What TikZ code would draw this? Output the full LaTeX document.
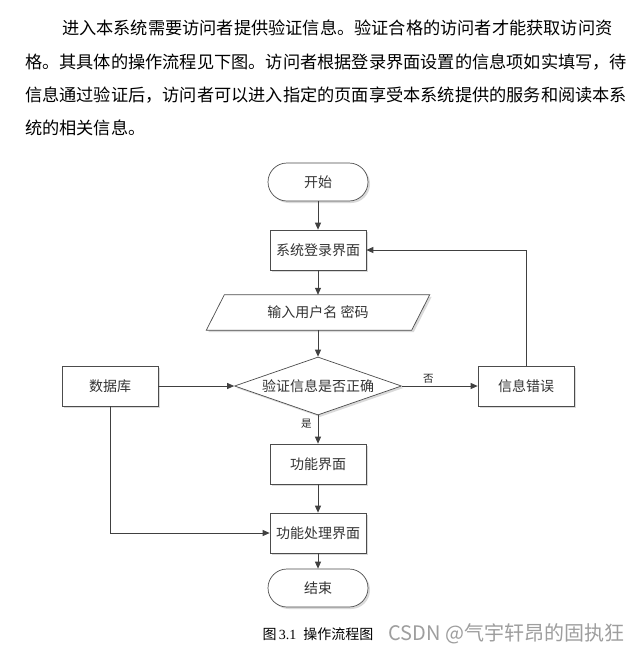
\documentclass[tikz,border=0pt]{standalone}
\usepackage{fontspec}
\setmainfont{Liberation Serif}
\newfontfamily\zhfont{Noto Sans CJK SC}
\usetikzlibrary{shapes.geometric,shadows,arrows.meta}

\begin{document}
\begin{tikzpicture}[x=1pt,y=-1pt,
	every node/.style={font=\zhfont\fontsize{14}{16}\selectfont, text=black!80},
	para/.style={anchor=west, inner sep=0pt, text=black, font=\zhfont\fontsize{17.2}{20}\selectfont},
	shade box/.style={drop shadow={shadow xshift=2pt, shadow yshift=-2pt, fill=black!18, opacity=0.8}},
	box/.style={draw=black!70, fill=white, line width=0.7pt, minimum width=96pt, minimum height=40pt, shade box},
	term/.style={draw=black!70, fill=white, line width=0.7pt, rounded corners=19pt, minimum width=100pt, minimum height=38pt, shade box},
	inbox/.style={minimum width=205pt, minimum height=35pt, inner sep=0pt},
	slanted/.style={draw=black!70, fill=white, line width=0.7pt, shade box},
	test/.style={draw=black!70, fill=white, line width=0.7pt, diamond, aspect=2.9, inner sep=0pt, minimum width=167pt, minimum height=58pt, shade box},
	flow/.style={draw=black!75, line width=0.8pt, -{Triangle[length=7pt, width=6pt]}},
	lbl/.style={font=\zhfont\fontsize{10.5}{12}\selectfont, text=black!85, inner sep=2pt}
	]
	\fill[white] (0,0) rectangle (642,654);
	\useasboundingbox (0,0) rectangle (642,654);
	% text above the chart
	\node[para] (line1) at (62,28) {进入本系统需要访问者提供验证信息。验证合格的访问者才能获取访问资};
	\node[para] (line2) at (25,62) {格。其具体的操作流程见下图。访问者根据登录界面设置的信息项如实填写，待};
	\node[para] (line3) at (25,95) {信息通过验证后，访问者可以进入指定的页面享受本系统提供的服务和阅读本系};
	\node[para] (line4) at (25,128) {统的相关信息。};
	% chart
	\node[term] (start) at (318,182) {开始};
	\node[box] (login) at (318,250) {系统登录界面};
	\node[inbox] (input) at (318,312.5) {};
	\draw[slanted] ([xshift=9pt]input.north west) -- ([xshift=9pt]input.north east)
		-- ([xshift=-9pt]input.south east) -- ([xshift=-9pt]input.south west) -- cycle;
	\node (inputtext) at (input) {输入用户名 密码};
	\node[test] (check) at (318,386) {验证信息是否正确};
	\node[box] (db) at (110,386) {数据库};
	\node[box] (err) at (526,386) {信息错误};
	\node[box] (func) at (318,464) {功能界面};
	\node[box] (proc) at (318,533) {功能处理界面};
	\node[term] (stop) at (318,588) {结束};
	\draw[flow] (start) -- (login);
	\draw[flow] (login) -- (input);
	\draw[flow] (input) -- (check);
	\draw[flow] (db) -- (check);
	\draw[flow] (check) -- node[pos=0.35, above, lbl] (no) {否} (err);
	\draw[flow] (check) -- node[pos=0.3, left=4pt, lbl] (yes) {是} (func);
	\draw[flow] (func) -- (proc);
	\draw[flow] (proc) -- (stop);
	\draw[flow] (db) |- (proc);
	\draw[flow] (err) |- (login);
	% caption
	\node[text=black] (cap) at (318,634) {图\,{\rmfamily 3.1}\hspace{7pt}操作流程图};
	\node[anchor=east, text=black!38, font=\zhfont\fontsize{20}{22}\selectfont] (mark) at (628,634) {CSDN @气宇轩昂的固执狂};
\end{tikzpicture}
\end{document}
